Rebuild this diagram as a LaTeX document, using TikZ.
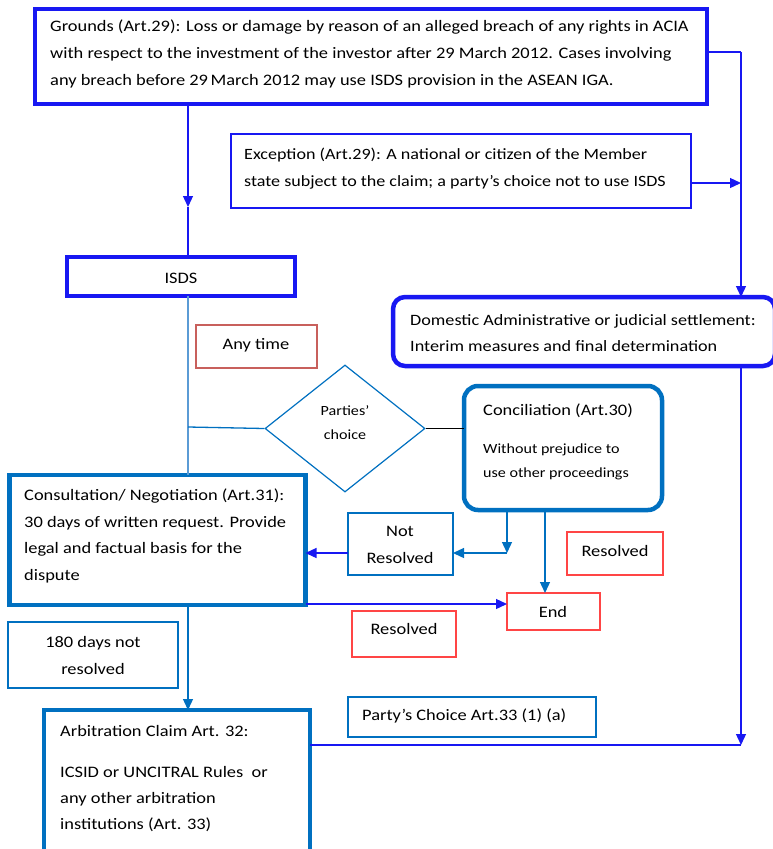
\documentclass[tikz,border=0pt]{standalone}
\usepackage{fontspec}
\setmainfont{Carlito}[FakeStretch=1.15]
\usetikzlibrary{arrows.meta,shapes.geometric}
\definecolor{bblue}{HTML}{1818F2}
\definecolor{mblue}{HTML}{0070C0}
\definecolor{lblue}{HTML}{5B9BD5}
\definecolor{rred}{HTML}{FF4545}
\definecolor{mred}{HTML}{C8605C}
\begin{document}
\begin{tikzpicture}[x=1pt,y=-1pt,
  bx/.style={draw, inner sep=0pt, outer sep=0pt},
  thickb/.style={bx, draw=bblue, line width=4.5pt},
  thickm/.style={bx, draw=mblue, line width=4.5pt},
  thinb/.style={bx, draw=bblue, line width=1.2pt},
  thinl/.style={bx, draw=lblue, line width=1.2pt},
  thinr/.style={bx, draw=rred, line width=1.2pt},
  thinmr/.style={bx, draw=mred, line width=1.2pt},
  txt/.style={inner sep=0pt, align=left, font=\fontsize{16}{27}\selectfont},
  ctxt/.style={inner sep=0pt, align=center, font=\fontsize{16}{27}\selectfont},
  arr/.style={-{Triangle[length=11pt,width=10pt]}},
  conb/.style={draw=bblue, line width=1.3pt},
  conm/.style={draw=mblue, line width=1.3pt},
  conl/.style={draw=lblue, line width=1.3pt}
]
\useasboundingbox (0,0) rectangle (773,849);
\clip (0,0) rectangle (773,849);

% boxes
\node[thickb, minimum width=672pt, minimum height=95pt] (g) at (371,56.5) {};
\node[txt, anchor=west] (gt) at (50,53.5) {Grounds (Art.29): Loss or damage by reason of an alleged breach of any rights in ACIA\\with respect to the investment of the investor after 29 March 2012. Cases involving\\any breach before 29\,March 2012 may use ISDS provision in the ASEAN IGA.};

\node[thinb, minimum width=460pt, minimum height=74pt] (exc) at (461,171) {};
\node[txt, anchor=west, font=\fontsize{15.7}{27.5}\selectfont] (exct) at (244,168.5) {Exception (Art.29): A national or citizen of the Member\\state subject to the claim; a party’s choice not to use ISDS};

\node[thickb, minimum width=228pt, minimum height=39pt] (isds) at (181,276.5) {};
\node[ctxt] (isdst) at (181,278) {ISDS};

\node[thinmr, minimum width=121pt, minimum height=43pt] (any) at (256.5,346.5) {};
\node[ctxt] (anyt) at (256,345) {Any time};

\node[thickb, rounded corners=12pt, minimum width=382pt, minimum height=69pt] (dom) at (584,331.5) {};
\node[txt, anchor=west, font=\fontsize{15.8}{26}\selectfont] (domt) at (410,333) {Domestic Administrative or judicial settlement:\\Interim measures and final determination};

\node[draw=mblue, line width=1.2pt, diamond, inner sep=0pt, minimum width=160pt, minimum height=127pt] (dia) at (345,428.5) {};
\node[ctxt, font=\fontsize{14}{24}\selectfont] (diat) at (345,423) {Parties’\\choice};

\node[thickm, rounded corners=14pt, minimum width=198pt, minimum height=124pt] (conc) at (563,448) {};
\node[txt, anchor=west, font=\fontsize{16}{24}\selectfont] (conct1) at (483,411) {Conciliation (Art.30)};
\node[txt, anchor=west, font=\fontsize{14}{24}\selectfont] (conct2) at (483,462) {Without prejudice to\\use other proceedings};

\node[thickm, minimum width=296pt, minimum height=130pt] (cons) at (157.5,540) {};
\node[txt, anchor=west, font=\fontsize{16}{26.7}\selectfont] (const) at (24,536) {Consultation/ Negotiation (Art.31):\\30 days of written request. Provide\\legal and factual basis for the\\dispute};

\node[thinl, draw=mblue, minimum width=105pt, minimum height=62pt] (nr) at (400.5,544) {};
\node[ctxt] (nrt) at (400,544.5) {Not\\Resolved};

\node[thinr, minimum width=96pt, minimum height=43pt] (res1) at (615,553.5) {};
\node[ctxt] (res1t) at (615,551) {Resolved};

\node[thinr, minimum width=93pt, minimum height=37pt] (end) at (553.5,611.5) {};
\node[ctxt] (endt) at (553,612) {End};

\node[thinr, minimum width=104pt, minimum height=46pt] (res2) at (404,634) {};
\node[ctxt] (res2t) at (404,629) {Resolved};

\node[thinl, draw=mblue, minimum width=170pt, minimum height=66pt] (d180) at (93,655) {};
\node[ctxt] (d180t) at (93,655) {180 days not\\resolved};

\node[thickm, minimum width=266pt, minimum height=142pt] (arb) at (177,781) {};
\node[txt, anchor=west, font=\fontsize{16}{26}\selectfont] (arbt) at (60,778.5) {Arbitration Claim Art. 32:\\[15pt]ICSID or UNCITRAL Rules\ \ or\\any other arbitration\\institutions (Art. 33)};

\node[thinl, draw=mblue, minimum width=248pt, minimum height=40pt] (pc) at (472,717) {};
\node[txt, anchor=west] (pct) at (362,716) {Party’s Choice Art.33 (1) (a)};

% connectors
\coordinate (m1) at (188,207);
\draw[conb, arr] (g.south -| m1) -- (m1);
\draw[conb] (m1) -- (isds.north -| m1);

\coordinate (c1) at (741,52);
\draw[conb] (g.east |- c1) -- (c1);
\draw[conb, arr] (c1) -- (dom.north -| c1);
\coordinate (c2) at (741,183);
\draw[conb, arr] (exc.east |- c2) -- (c2);

\draw[conl] (isds.south -| m1) -- (cons.north -| m1);
\coordinate (c3) at (188,427);
\draw[conm] (c3) -- (dia.west);
\draw[black, line width=1pt] (dia.east) -- (dia.east -| conc.west);

\coordinate (c4) at (507,553);
\draw[conm, arr] (conc.south -| c4) -- (c4);
\draw[conm, arr] (c4) -- (nr.east |- c4);
\draw[conb, arr] (nr.west |- c4) -- (cons.east |- c4);

\coordinate (c5) at (545,593);
\draw[conm, arr] (conc.south -| c5) -- (end.north -| c5);

\coordinate (c6) at (507,604);
\draw[conb, arr] (cons.east |- c6) -- (c6);

\draw[conm, arr] (cons.south -| m1) -- (arb.north -| m1);

\coordinate (c7) at (741,745);
\draw[conb, arr] (dom.south -| c7) -- (c7);
\draw[conb] (arb.east |- c7) -- (c7);
\end{tikzpicture}
\end{document}
